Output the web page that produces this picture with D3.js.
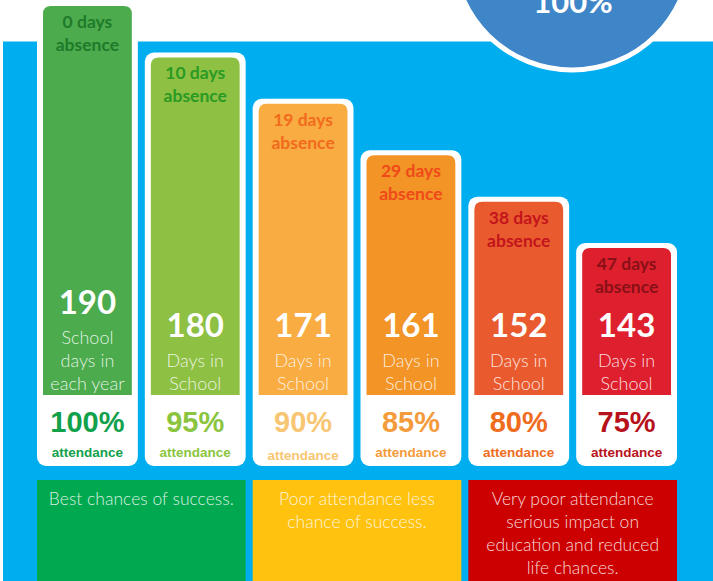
<!DOCTYPE html>
<html>
<head>
<meta charset="utf-8">
<script src="https://cdn.jsdelivr.net/npm/d3@7"></script>
<style>
  body { margin: 0; background: #fff; }
  svg { display: block; }
</style>
</head>
<body>
<div id="chart"></div>
<script>
// chart values
var absenceDays = [0, 10, 19, 29, 38, 47];
var schoolDays = [190, 180, 171, 161, 152, 143];
var attendancePct = [100, 95, 90, 85, 80, 75];
var dayCaptions = [
    ['School', 'days in', 'each year'],
    ['Days in', 'School'],
    ['Days in', 'School'],
    ['Days in', 'School'],
    ['Days in', 'School'],
    ['Days in', 'School']
];
var outcomeText = [
    ['Best chances of success.'],
    ['Poor attendance less', 'chance of success.'],
    ['Very poor attendance', 'serious impact on', 'education and reduced', 'life chances.']
];
var outcomeCols = [[0, 1], [2, 3], [4, 5]];
var headline = '100%';

// colours
var barColor = ['#4bab4d', '#8dc043', '#f8ac42', '#f29426', '#e95b2e', '#de1f2d'];
var absColor = ['#1f7a2a', '#2a9a24', '#f26b1c', '#f0491a', '#c4141c', '#8a1017'];
var pctColor = ['#12a14b', '#8bc53f', '#f8c672', '#f49b3c', '#ef6c1e', '#b7121c'];
var outcomeColor = ['#00a94f', '#ffc20e', '#cc0000'];

var width = 713, height = 581;
var colBottom = 395, frameBottom = 466;

var svg = d3.select('#chart').append('svg')
    .attr('width', width)
    .attr('height', height);

// blue panel
svg.append('rect')
    .attr('x', 3).attr('y', 41.5)
    .attr('width', width - 3).attr('height', height - 41.5)
    .attr('fill', '#00aeef');

// headline circle (runs off the top edge, as in the original)
svg.append('circle')
    .attr('cx', 572).attr('cy', -49).attr('r', 119)
    .attr('fill', '#3f86c8')
    .attr('stroke', '#fff').attr('stroke-width', 5);
svg.append('text')
    .attr('x', 573).attr('y', 13)
    .attr('text-anchor', 'middle')
    .attr('fill', '#fff')
    .style('font-family', 'Lato, sans-serif')
    .style('font-weight', 700)
    .style('font-size', '31px')
    .text(headline);

var cols = d3.range(schoolDays.length);

var x = d3.scaleBand().domain(cols).range([37, 677]).paddingInner(0.065);
var y = d3.scaleLinear().domain([0, 47]).range([6, 248]);
var bw = x.bandwidth();
var inset = 6;

var col = svg.selectAll('.col')
    .data(cols)
    .enter().append('g')
    .attr('class', 'col')
    .attr('transform', d => `translate(${x(d)},0)`);

// white frame
col.append('rect')
    .attr('x', 0)
    .attr('y', d => y(absenceDays[d]) - 5)
    .attr('width', bw)
    .attr('height', d => frameBottom - y(absenceDays[d]) + 5)
    .attr('rx', 9)
    .attr('fill', '#fff');

// coloured bar, rounded top only
col.append('path')
    .attr('fill', d => barColor[d])
    .attr('d', d => {
        var t = y(absenceDays[d]), l = inset, r = bw - inset, rr = 8;
        return `M${l},${colBottom}V${t + rr}Q${l},${t} ${l + rr},${t}H${r - rr}Q${r},${t} ${r},${t + rr}V${colBottom}Z`;
    });

// absence label
col.append('text')
    .attr('x', bw / 2)
    .attr('y', d => y(absenceDays[d]) + 15)
    .attr('text-anchor', 'middle')
    .attr('dominant-baseline', 'central')
    .attr('fill', d => absColor[d])
    .style('font-family', 'Lato, sans-serif')
    .style('font-weight', 700)
    .style('font-size', '17.5px')
    .each(function (d) {
        var t = d3.select(this);
        t.append('tspan').attr('x', bw / 2).text(absenceDays[d] + ' days');
        t.append('tspan').attr('x', bw / 2).attr('dy', 23).text('absence');
    });

// number and caption lines
col.each(function (d) {
    var g = d3.select(this);
    var lines = dayCaptions[d];
    var lastY = 382.5, step = 23;
    var firstY = lastY - step * (lines.length - 1);
    g.append('text')
        .attr('x', bw / 2)
        .attr('y', firstY - 36)
        .attr('text-anchor', 'middle')
        .attr('dominant-baseline', 'central')
        .attr('fill', '#fff')
        .style('font-family', 'Lato, sans-serif')
        .style('font-weight', 700)
        .style('font-size', '33px')
        .text(schoolDays[d]);
    g.selectAll('.cap')
        .data(lines)
        .enter().append('text')
        .attr('class', 'cap')
        .attr('x', bw / 2)
        .attr('y', (s, i) => firstY + i * step)
        .attr('text-anchor', 'middle')
        .attr('dominant-baseline', 'central')
        .attr('fill', '#fff')
        .attr('fill-opacity', 0.85)
        .style('font-family', 'Lato, sans-serif')
        .style('font-weight', 300)
        .style('font-size', '18px')
        .text(s => s);
});

// attendance
col.append('text')
    .attr('x', bw / 2)
    .attr('y', 422)
    .attr('text-anchor', 'middle')
    .attr('dominant-baseline', 'central')
    .attr('fill', d => pctColor[d])
    .style('font-family', 'Liberation Sans, Arial, sans-serif')
    .style('font-weight', 700)
    .style('font-size', '29px')
    .text(d => attendancePct[d] + '%');

col.append('text')
    .attr('x', bw / 2)
    .attr('y', d => d == 2 ? 455 : 452)
    .attr('text-anchor', 'middle')
    .attr('dominant-baseline', 'central')
    .attr('fill', d => pctColor[d])
    .style('font-family', 'Liberation Sans, Arial, sans-serif')
    .style('font-weight', 700)
    .style('font-size', '13.5px')
    .text('attendance');

// outcome boxes
var box = svg.selectAll('.outcome')
    .data(outcomeCols)
    .enter().append('g')
    .attr('class', 'outcome');

box.append('rect')
    .attr('x', d => x(d[0]))
    .attr('y', 480)
    .attr('width', d => x(d[1]) + bw - x(d[0]))
    .attr('height', height - 480 + 10)
    .attr('fill', (d, i) => outcomeColor[i]);

box.each(function (d, i) {
    var cx = (x(d[0]) + x(d[1]) + bw) / 2;
    d3.select(this).selectAll('text')
        .data(outcomeText[i])
        .enter().append('text')
        .attr('x', cx)
        .attr('y', (s, j) => 498 + j * 23)
        .attr('text-anchor', 'middle')
        .attr('dominant-baseline', 'central')
        .attr('fill', '#fff')
        .attr('fill-opacity', 0.85)
        .style('font-family', 'Lato, sans-serif')
        .style('font-weight', 300)
        .style('font-size', '17.5px')
        .text(s => s);
});
</script>
</body>
</html>
